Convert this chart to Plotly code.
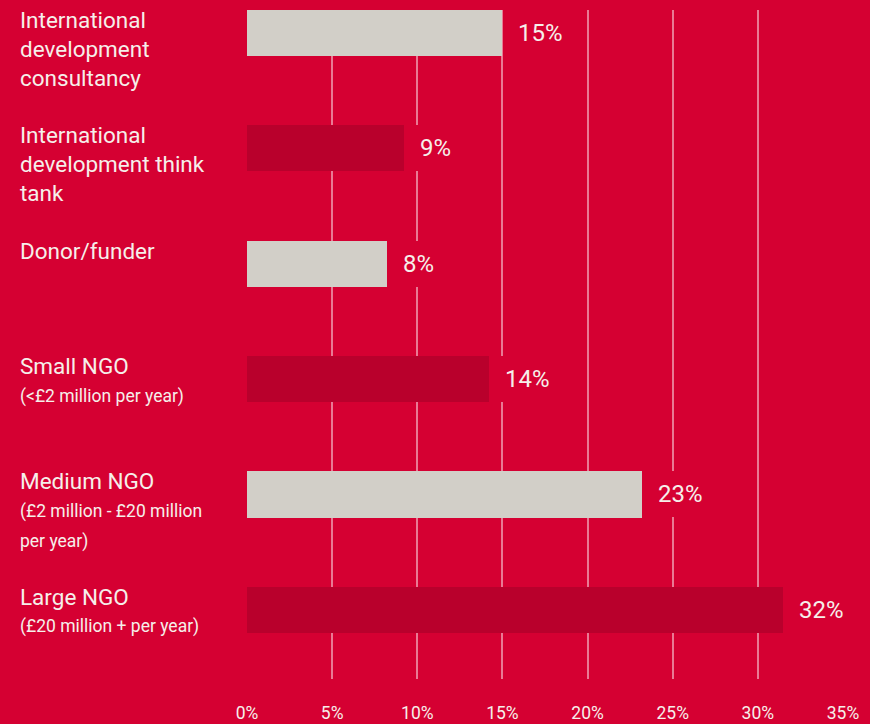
import plotly.graph_objects as go

# ---- data ----
categories = [
    "International development consultancy",
    "International development think tank",
    "Donor/funder",
    "Small NGO",
    "Medium NGO",
    "Large NGO",
]
main_lines = [
    ["International", "development", "consultancy"],
    ["International", "development think", "tank"],
    ["Donor/funder"],
    ["Small NGO"],
    ["Medium NGO"],
    ["Large NGO"],
]
sub_lines = [
    [],
    [],
    [],
    ["(<£2 million per year)"],
    ["(£2 million - £20 million", "per year)"],
    ["(£20 million + per year)"],
]
values = [15.0, 9.2, 8.2, 14.2, 23.2, 31.5]
value_labels = ["15%", "9%", "8%", "14%", "23%", "32%"]
tick_vals = [0, 5, 10, 15, 20, 25, 30, 35]
tick_text = ["0%", "5%", "10%", "15%", "20%", "25%", "30%", "35%"]

# ---- style ----
BG = "#D50032"
LIGHT = "#D2CFC8"
DARK = "#B9002C"
TXT = "#F6EFEA"
FONT = "Roboto"

bar_colors = [LIGHT if i % 2 == 0 else DARK for i in range(len(values))]
ypos = list(range(len(categories)))

fig = go.Figure()
fig.add_trace(go.Bar(
    x=values, y=ypos, orientation="h",
    marker=dict(color=bar_colors, line=dict(width=0)),
    width=0.4, hoverinfo="skip", showlegend=False,
))

annotations = []
for i, v in enumerate(values):
    annotations.append(dict(
        x=v, y=i, xref="x", yref="y", text=value_labels[i],
        showarrow=False, xanchor="left", yanchor="middle",
        xshift=9, bgcolor=BG, height=32, borderpad=6, borderwidth=1,
        bordercolor=BG,
        font=dict(family=FONT, size=24, color=TXT),
    ))
    for k, line in enumerate(main_lines[i]):
        annotations.append(dict(
            x=0, y=i, xref="paper", yref="y", text=line,
            showarrow=False, xanchor="left", yanchor="middle",
            xshift=-229, yshift=13 - 29 * k,
            font=dict(family=FONT, size=22.5, color=TXT),
        ))
    for k, line in enumerate(sub_lines[i]):
        annotations.append(dict(
            x=0, y=i, xref="paper", yref="y", text=line,
            showarrow=False, xanchor="left", yanchor="middle",
            xshift=-229, yshift=13 - 30 - 30 * k,
            font=dict(family=FONT, size=17.5, color=TXT),
        ))

fig.update_layout(
    width=870, height=724,
    paper_bgcolor=BG, plot_bgcolor=BG,
    margin=dict(l=247, r=27, t=10, b=45),
    xaxis=dict(
        range=[0, 35], tickvals=tick_vals, ticktext=tick_text,
        showgrid=True, gridcolor="rgba(255,255,255,0.48)", gridwidth=1.5,
        zeroline=False, showline=False, ticks="",
        ticklabelstandoff=21, automargin=False,
        tickfont=dict(family=FONT, size=17.5, color=TXT),
        fixedrange=True,
    ),
    yaxis=dict(
        range=[5.6, -0.2], showticklabels=False, showgrid=False,
        zeroline=False, showline=False, fixedrange=True, automargin=False,
    ),
    annotations=annotations,
    bargap=0,
)

fig.write_html(
    "out.html",
    config={"displayModeBar": False},
    post_script="document.body.style.margin='0';document.body.style.background='" + BG + "';",
)
